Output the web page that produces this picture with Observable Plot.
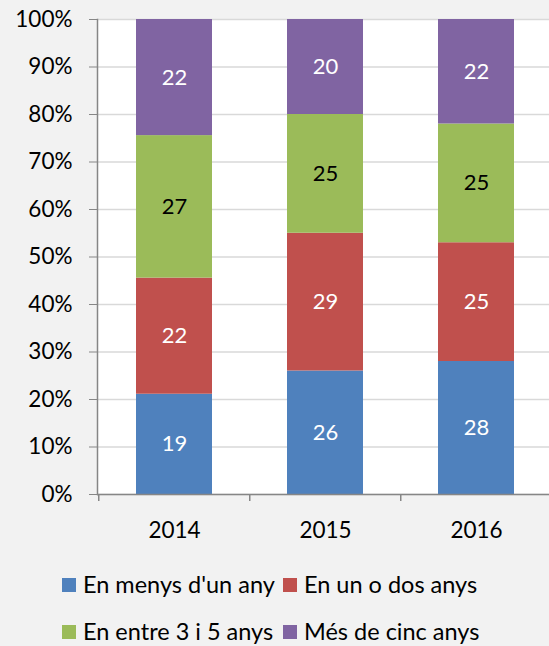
<!DOCTYPE html>
<html>
<head>
<meta charset="utf-8">
<script src="https://cdn.jsdelivr.net/npm/d3@7"></script>
<script src="https://cdn.jsdelivr.net/npm/@observablehq/plot@0.6"></script>
<style>
  html, body { margin: 0; padding: 0; background: #f2f2f2; }
  body { width: 549px; height: 646px; overflow: hidden; font-family: Lato, "Open Sans", sans-serif; }
  #chart svg { display: block; }
  #legend { position: relative; height: 100px; font-size: 23.5px; color: #000; line-height: 1; }
  .item { position: absolute; display: flex; align-items: center; white-space: nowrap; height: 24px; }
  .sw { width: 14px; height: 14px; margin-right: 7px; flex: none; }
</style>
</head>
<body>
<div id="chart"></div>
<div id="legend"></div>
<script>
const years = ["2014", "2015", "2016"];
const categories = ["En menys d'un any", "En un o dos anys", "En entre 3 i 5 anys", "Més de cinc anys"];
const colors = ["#4f81bd", "#c0504d", "#9bbb59", "#8064a2"];
const labelColors = ["#ffffff", "#ffffff", "#000000", "#ffffff"];
const v2014 = [19, 22, 27, 22];
const v2015 = [26, 29, 25, 20];
const v2016 = [28, 25, 25, 22];
const yTicks = [0, 0.1, 0.2, 0.3, 0.4, 0.5, 0.6, 0.7, 0.8, 0.9, 1];

const series = [v2014, v2015, v2016];
const data = [];
years.forEach((y, i) => categories.forEach((c, j) => data.push({year: y, category: c, value: series[i][j], lc: labelColors[j]})));

const W = 549, ML = 97, MR = -2.5;
const step = (W - ML - MR) / 3;

const chart = Plot.plot({
  width: W,
  height: 546,
  marginLeft: ML,
  marginRight: MR,
  marginTop: 19,
  marginBottom: 52,
  style: {fontFamily: "Lato, 'Open Sans', sans-serif", fontSize: "22px", background: "transparent", color: "#000", overflow: "visible"},
  x: {domain: years, paddingInner: 0.5, paddingOuter: 0.25, label: null},
  y: {domain: [0, 1], label: null},
  color: {domain: categories, range: colors},
  marks: [
    Plot.frame({fill: "white", stroke: null}),
    Plot.gridY(yTicks, {stroke: "#d9d9d9", strokeOpacity: 1, strokeWidth: 1.5}),
    Plot.barY(data, Plot.stackY({offset: "normalize"}, {x: "year", y: "value", fill: "category"})),
    Plot.text(data, Plot.stackY({offset: "normalize"}, {x: "year", y: "value", text: "value", fill: "lc", fontSize: 22})),
    Plot.axisY(yTicks, {tickFormat: d3.format(".0%"), tickSize: 8, tickPadding: 17, stroke: "#868686", fill: "#000", fontSize: 22.5, label: null}),
    Plot.axisX({tickSize: 0, tickPadding: 28, fontSize: 22.5, fill: "#000", label: null}),
    Plot.ruleY([0], {stroke: "#868686", strokeWidth: 1.5}),
    Plot.frame({anchor: "left", stroke: "#868686", strokeWidth: 1.5}),
    Plot.ruleX(years, {x: d => d, y1: 0, y2: 0, insetBottom: -7, dx: -step / 2, stroke: "#868686", strokeWidth: 1.5})
  ]
});
document.getElementById("chart").appendChild(chart);

const legend = document.getElementById("legend");
const pos = [[62, 27], [283, 27], [62, 74], [283, 74]];
categories.forEach((c, i) => {
  const it = document.createElement("div");
  it.className = "item";
  it.style.left = pos[i][0] + "px";
  it.style.top = pos[i][1] + "px";
  it.innerHTML = `<span class="sw" style="background:${colors[i]}"></span><span>${c}</span>`;
  legend.appendChild(it);
});
</script>
</body>
</html>
